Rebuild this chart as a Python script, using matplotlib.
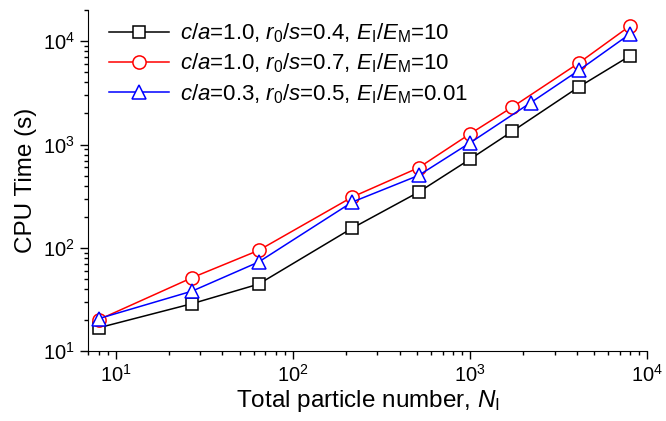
import numpy as np
import matplotlib
matplotlib.use('Agg')
import matplotlib.pyplot as plt

plt.rcParams['font.family'] = 'Liberation Sans'
plt.rcParams['mathtext.fontset'] = 'custom'
plt.rcParams['mathtext.rm'] = 'Liberation Sans'
plt.rcParams['mathtext.it'] = 'Liberation Sans:italic'

# datos
n_a = [8, 27, 64, 216, 512, 1000, 1728, 4096, 8000]
t_a = [16.8, 28.8, 44.5, 155, 346, 722, 1340, 3600, 7230]

n_b = [8, 27, 64, 216, 512, 1000, 1728, 4096, 8000]
t_b = [20.1, 51.4, 94.4, 310, 596, 1270, 2300, 6140, 14100]

n_c = [8, 27, 64, 216, 512, 1000, 2197, 4096, 8000]
t_c = [20.6, 38.1, 72.8, 277, 502, 1040, 2540, 5210, 11800]

labels = [r'$c/a$=1.0, $r_0/s$=0.4, $E_\mathrm{I}/E_\mathrm{M}$=10',
          r'$c/a$=1.0, $r_0/s$=0.7, $E_\mathrm{I}/E_\mathrm{M}$=10',
          r'$c/a$=0.3, $r_0/s$=0.5, $E_\mathrm{I}/E_\mathrm{M}$=0.01']

fig = plt.figure(figsize=(6.66, 4.21), dpi=100)
ax = fig.add_axes([0.132, 0.166, 0.840, 0.81])

ax.plot(n_a, t_a, 'k-', marker='s', ms=8, mfc='white', mec='k', mew=1.1, lw=1.1, label=labels[0])
ax.plot(n_b, t_b, 'r-', marker='o', ms=9.5, mfc='white', mec='r', mew=1.1, lw=1.1, label=labels[1])
ax.plot(n_c, t_c, 'b-', marker='^', ms=10, mfc='white', mec='b', mew=1.1, lw=1.1, label=labels[2])

ax.set_xscale('log')
ax.set_yscale('log')
ax.set_xlim(6.97, 1e4)
ax.set_ylim(10, 2e4)

ax.spines['top'].set_visible(False)
ax.spines['right'].set_visible(False)
ax.tick_params(which='major', direction='out', length=6, width=1, labelsize=14.5)
ax.tick_params(which='minor', direction='out', length=3, width=1)

ax.set_xlabel(r'Total particle number, $N_\mathrm{I}$', fontsize=17.5, labelpad=1)
ax.set_ylabel('CPU Time (s)', fontsize=17.5, labelpad=4)

ax.legend(loc='upper left', bbox_to_anchor=(0.03, 0.98), frameon=False, fontsize=16,
          handlelength=2.7, handletextpad=0.5, labelspacing=0.3,
          borderaxespad=0, borderpad=0.2)

fig.savefig('out.png', dpi=100)
